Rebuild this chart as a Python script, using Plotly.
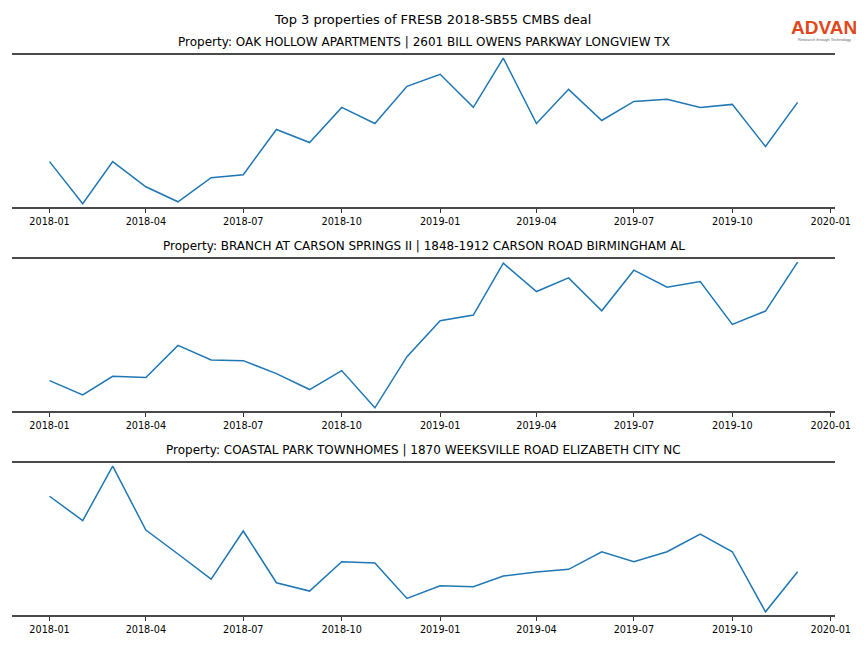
import plotly.graph_objects as go
import pandas as pd

months = pd.date_range("2018-01-01", "2019-12-01", freq="MS")

titles = [
    "Property: OAK HOLLOW APARTMENTS | 2601 BILL OWENS PARKWAY LONGVIEW TX",
    "Property: BRANCH AT CARSON SPRINGS II | 1848-1912 CARSON ROAD BIRMINGHAM AL",
    "Property: COASTAL PARK TOWNHOMES | 1870 WEEKSVILLE ROAD ELIZABETH CITY NC",
]

oak_hollow = [45, 3, 45, 20, 5, 29, 32, 77, 64, 99, 83, 120,
              132, 99, 148, 83, 117, 86, 105, 107, 99, 102, 60, 104]
branch_carson = [30, 15.7, 34.3, 33, 65.3, 50.7, 50, 37, 21, 40, 2.7, 54,
                 90, 95.7, 147.7, 119.3, 133, 100, 140.7, 123.7, 129.3, 86.3, 99.7, 148.7]
coastal_park = [117.7, 93.3, 147.7, 84, 60, 35, 83, 31.3, 23, 52.3, 51, 15.7,
                28.3, 27.3, 38, 42, 44.7, 62.3, 52.3, 62.3, 80, 62.3, 2.3, 42.3]

series = [oak_hollow, branch_carson, coastal_park]

tick_dates = pd.date_range("2018-01-01", "2020-01-01", freq="3MS")

# page body has an 8px margin; observed horizontal capture factor ~864/880
OFF = 8
SX = 864 / 880
W, H = 872, 628


def px_x(px):
    return (px / SX - OFF) / W


def px_y(py):
    return 1 - (py - OFF) / H


# panel pixel extents in picture coordinates (top, bottom)
panels_px = [(55, 207), (259, 411), (463, 615)]
x0_px, x1_px = 12, 835

fig = go.Figure()

span = months[-1] - months[0]
xr = [months[0] - span * 0.05, months[-1] + span * 0.05]

for i, (vals, title, (t, b)) in enumerate(zip(series, titles, panels_px)):
    n = i + 1
    xa = "x" if n == 1 else f"x{n}"
    ya = "y" if n == 1 else f"y{n}"
    fig.add_trace(go.Scatter(x=months, y=vals, mode="lines",
                             line=dict(color="#1f77b4", width=1.5),
                             xaxis=xa, yaxis=ya, showlegend=False,
                             hoverinfo="x+y"))
    lo, hi = min(vals), max(vals)
    pad = (hi - lo) * 0.022
    key = "" if n == 1 else str(n)
    fig.layout[f"xaxis{key}"] = dict(
        domain=[px_x(x0_px), px_x(x1_px)], anchor=ya, range=xr,
        showline=True, mirror=True, linecolor="#4a4a4a", linewidth=2,
        showgrid=False, zeroline=False,
        tickmode="array", tickvals=list(tick_dates),
        ticktext=[d.strftime("%Y-%m") for d in tick_dates],
        ticks="outside", ticklen=4, tickwidth=1, tickcolor="#333333",
        tickfont=dict(family="DejaVu Sans", size=9.7, color="#000000"),
    )
    fig.layout[f"yaxis{key}"] = dict(
        domain=[px_y(b), px_y(t)], anchor=xa, range=[lo - pad, hi + pad],
        showline=False, showgrid=False, zeroline=False,
        showticklabels=False, ticks="",
    )
    fig.add_annotation(text=title, xref="paper", yref="paper",
                       x=px_x((x0_px + x1_px) / 2), y=px_y(t - 13),
                       xanchor="center", yanchor="middle", showarrow=False,
                       font=dict(family="DejaVu Sans", size=12, color="#000000"))

fig.add_annotation(text="Top 3 properties of FRESB 2018-SB55 CMBS deal",
                   xref="paper", yref="paper", x=px_x(432), y=px_y(19),
                   xanchor="center", yanchor="middle", showarrow=False,
                   font=dict(family="DejaVu Sans", size=13, color="#000000"))

# logo
fig.add_annotation(text="<b>ADVAN</b>", xref="paper", yref="paper",
                   x=px_x(824), y=px_y(27), xanchor="center", yanchor="middle",
                   showarrow=False,
                   font=dict(family="Liberation Sans", size=19, color="#e0481c"))
fig.add_annotation(text="Research through Technology", xref="paper", yref="paper",
                   x=px_x(824), y=px_y(39), xanchor="center", yanchor="middle",
                   showarrow=False,
                   font=dict(family="Liberation Sans", size=4, color="#666666"))

fig.update_layout(width=W, height=H, margin=dict(l=0, r=0, t=0, b=0),
                  paper_bgcolor="white", plot_bgcolor="white")

fig.write_html("out.html", config={"responsive": False})
